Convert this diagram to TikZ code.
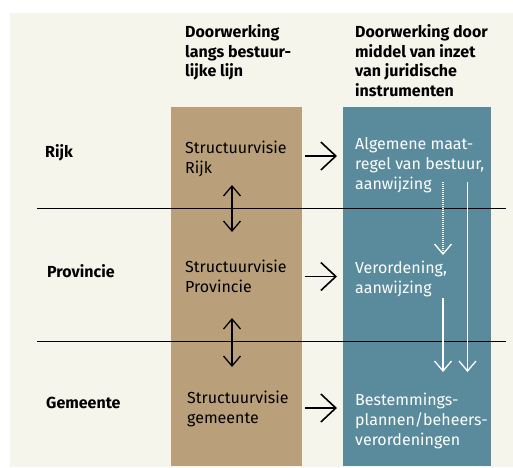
\documentclass[tikz,border=0pt]{standalone}
\usepackage{fontspec}
\setmainfont{Fira Sans}
\usetikzlibrary{arrows.meta,positioning}

\definecolor{cream}{HTML}{F6F5EC}
\definecolor{tancol}{HTML}{B9A07A}
\definecolor{steelcol}{HTML}{5A8B9C}

\tikzset{
  column/.style={anchor=north west, inner sep=0pt, minimum width=#1, minimum height=359pt},
  txt/.style={anchor=north west, inner sep=0pt, align=left, font=\fontsize{16}{20}\selectfont},
  headtxt/.style={txt, font=\bfseries\fontsize{16}{19.5}\selectfont},
  flow/.style={-{Straight Barb[length=15pt,width=28pt]}, line width=1.6pt, shorten >=6pt},
  updown/.style={{Straight Barb[length=10pt,width=17pt]}-{Straight Barb[length=10pt,width=17pt]}, line width=1.3pt},
  down/.style={-{Straight Barb[length=10pt,width=17pt]}, line width=1.3pt, white},
}

\begin{document}
\begin{tikzpicture}[x=1pt, y=-1pt]
\useasboundingbox (0,0) rectangle (513,467);

% Background and columns
\fill[cream] (10,13) rectangle (513,467);
\node[column=131pt, fill=tancol] (colBestuur) at (171,107) {};
\node[column=148pt, fill=steelcol] (colJuridisch) at (343,107) {};

% Level separators
\draw[line width=0.8pt] (37,208) -- (506,208);
\draw[line width=0.8pt] (37,341) -- (506,341);

% Column headers
\node[headtxt] (hBestuur) at (185,24.5) {Doorwerking\\langs bestuur-\\lijke lijn};
\node[headtxt] (hJuridisch) at (355,24.5) {Doorwerking door\\middel van inzet\\van juridische\\instrumenten};

% Levels
\node[headtxt] (rijk) at (45,144.5) {Rijk};
\node[headtxt] (provincie) at (47,264.5) {Provincie};
\node[headtxt] (gemeente) at (46,396.5) {Gemeente};

% Structure visions
\node[txt] (sRijk) at (185,140.5) {Structuurvisie\\Rijk};
\node[txt] (sProv) at (185,259.5) {Structuurvisie\\Provincie};
\node[txt] (sGem) at (187,391) {Structuurvisie\\gemeente};

% Legal instruments
\node[txt, white] (jRijk) at (355,137.5) {Algemene maat-\\regel van bestuur,\\aanwijzing};
\node[txt, white] (jProv) at (355,260.5) {Verordening,\\aanwijzing};
\node[txt, white] (jGem) at (355,392.5) {Bestemmings-\\plannen/beheers-\\verordeningen};

% Horizontal flows
\coordinate (aRijk) at (305,156);
\coordinate (aProv) at (305,276.5);
\coordinate (aGem) at (305,408);
\draw[flow] (aRijk) -- (aRijk -| colJuridisch.west);
\draw[flow] (aProv) -- (aProv -| colJuridisch.west);
\draw[flow] (aGem) -- (aGem -| colJuridisch.west);

% Vertical links between visions
\coordinate (uRijk) at (232,185);
\coordinate (uProv) at (232,232);
\coordinate (vProv) at (232,318);
\coordinate (vGem) at (232,367);
\draw[updown] (uRijk) -- (uProv);
\draw[updown] (vProv) -- (vGem);

% Downward flows of instruments
\coordinate (dRijk) at (443,182);
\coordinate (dProv) at (443,255);
\coordinate (eProv) at (443,298);
\coordinate (eGem) at (443,372);
\coordinate (fRijk) at (467.5,182);
\coordinate (fGem) at (467.5,372);
\draw[down, dash pattern=on 1.2pt off 0.8pt] (dRijk) -- (dProv);
\draw[down] (eProv) -- (eGem);
\draw[down] (fRijk) -- (fGem);

\end{tikzpicture}
\end{document}
